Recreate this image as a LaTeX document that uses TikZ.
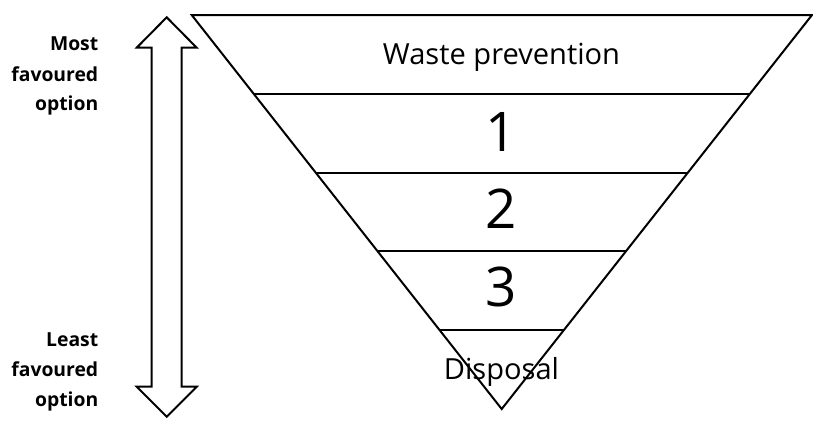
\documentclass[tikz,border=0pt]{standalone}
\usepackage{fontspec}
\setmainfont{Open Sans}
\usetikzlibrary{calc}
\tikzset{
  level/.style={anchor=base, inner sep=0pt, font=\fontsize{21.8}{26}\selectfont},
  digit/.style={anchor=base, inner sep=0pt, font=\fontsize{41}{48}\selectfont},
  side/.style={anchor=base east, inner sep=0pt, font=\bfseries\fontsize{14.5}{18}\selectfont},
  outline/.style={draw=black, line width=1.5pt, line join=miter}
}
\begin{document}
\begin{tikzpicture}[x=0.75pt,y=-0.75pt]
\useasboundingbox (0,0) rectangle (813,430);
\fill[white] (0,0) rectangle (813,430);
% funnel
\coordinate (TL) at (191.7,15);
\coordinate (TR) at (812,15);
\coordinate (AP) at (501.7,409);
\draw[outline] (TL) -- (TR) -- (AP) -- cycle;
\foreach \t/\n in {0.2/a,0.4/b,0.6/c,0.8/d}{
  \coordinate (L\n) at ($(TL)!\t!(AP)$);
  \coordinate (R\n) at ($(TR)!\t!(AP)$);
  \draw[outline] (L\n) -- (R\n);
}
% labels
\node[level] (wp) at (501.5,64.3) {Waste prevention};
\node[digit] (one) at (501,151.7) {1};
\node[digit] (two) at (501,228.3) {2};
\node[digit] (three) at (501,306.7) {3};
\node[level] (disp) at (501.5,379) {Disposal};
% double arrow
\draw[outline] (166.7,17.3) -- (196.7,47.7) -- (181.7,47.7) -- (181.7,386.7)
  -- (196.7,386.7) -- (166.7,416.7) -- (136.7,386.7) -- (151.7,386.7)
  -- (151.7,47.7) -- (136.7,47.7) -- cycle;
% side labels
\node[side] (m1) at (98.5,50) {Most};
\node[side] (m2) at (98.5,81.7) {favoured};
\node[side] (m3) at (98.5,110) {option};
\node[side] (l1) at (98.5,346) {Least};
\node[side] (l2) at (98.5,376.7) {favoured};
\node[side] (l3) at (98.5,406.7) {option};
\end{tikzpicture}
\end{document}
